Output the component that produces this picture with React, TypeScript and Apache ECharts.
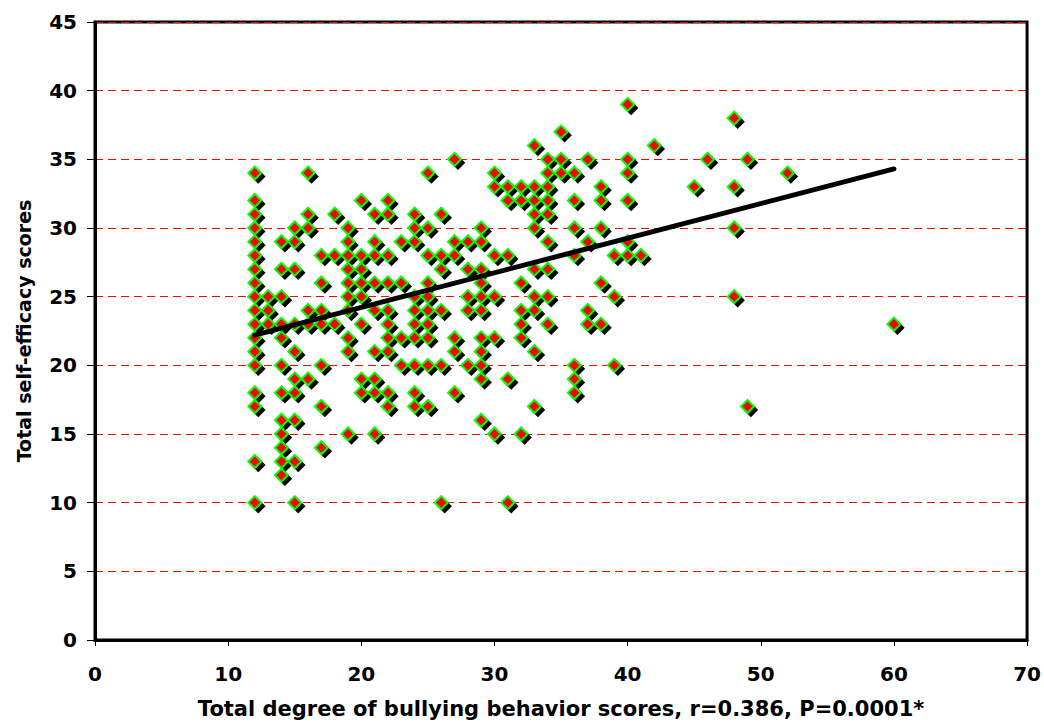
import { useEffect, useRef } from "react";
import * as echarts from "echarts";

// Bullying behaviour score (x) and the self-efficacy scores (y) observed at that x
const bullyingScores = [12, 13, 14, 15, 16, 17, 18, 19, 20, 21, 22, 23, 24, 25, 26, 27, 28, 29, 30, 31, 32, 33, 34, 35, 36, 37, 38, 39, 40, 41, 42, 45, 46, 48, 49, 52, 60];
const efficacyScores = [
  [34, 32, 31, 30, 29, 28, 27, 26, 25, 24, 23, 22, 21, 20, 18, 17, 13, 10],
  [25, 24, 23],
  [29, 27, 25, 23, 22, 20, 18, 16, 15, 14, 13, 12],
  [30, 29, 27, 23, 21, 19, 18, 16, 13, 10],
  [34, 31, 30, 24, 23, 19],
  [28, 26, 24, 23, 20, 17, 14],
  [31, 28, 23],
  [30, 29, 28, 27, 26, 25, 24, 22, 21, 15],
  [32, 28, 27, 26, 25, 23, 19, 18],
  [31, 29, 28, 26, 24, 21, 19, 18, 15],
  [32, 31, 28, 26, 24, 23, 22, 21, 18, 17],
  [29, 26, 22, 20],
  [31, 30, 29, 25, 24, 23, 22, 20, 18, 17],
  [34, 30, 28, 26, 25, 24, 23, 22, 20, 17],
  [31, 28, 27, 24, 20, 10],
  [35, 29, 28, 22, 21, 18],
  [29, 27, 25, 24, 20],
  [30, 29, 27, 26, 25, 24, 22, 21, 20, 19, 16],
  [34, 33, 28, 25, 22, 15],
  [33, 32, 28, 19, 10],
  [33, 32, 26, 24, 23, 22, 15],
  [36, 33, 32, 31, 30, 27, 25, 24, 21, 17],
  [35, 34, 33, 32, 31, 29, 27, 25, 23],
  [37, 35, 34],
  [34, 32, 30, 28, 20, 19, 18],
  [35, 29, 24, 23],
  [33, 32, 30, 26, 23],
  [28, 25, 20],
  [39, 35, 34, 32, 29, 28],
  [28],
  [36],
  [33],
  [35],
  [38, 33, 30, 25],
  [35, 17],
  [34],
  [23],
];

// Linear trend line end points
const trendX = [12, 60];
const trendY = [22.2, 34.3];

const xAxisTitle = "Total degree of bullying behavior scores, r=0.386, P=0.0001*";
const yAxisTitle = "Total self-efficacy scores";

const FONT = "'DejaVu Sans', Verdana, sans-serif";

export default function App() {
  const ref = useRef<HTMLDivElement>(null);

  useEffect(() => {
    if (!ref.current) return;
    const chart = echarts.init(ref.current, null, { renderer: "svg" });
    const points: number[][] = [];
    bullyingScores.forEach((x, i) => {
      efficacyScores[i].forEach((y) => points.push([x, y]));
    });
    const trend = trendX.map((x, i) => [x, trendY[i]]);

    const labelStyle = {
      color: "#000",
      fontSize: 20,
      fontWeight: "bold" as const,
      fontFamily: FONT,
    };

    chart.setOption({
      animation: false,
      backgroundColor: "#fff",
      grid: {
        left: 95,
        right: 15,
        top: 22,
        bottom: 87,
        show: true,
        borderColor: "#000",
        borderWidth: 3,
        backgroundColor: "transparent",
      },
      xAxis: {
        type: "value",
        min: 0,
        max: 70,
        interval: 10,
        name: xAxisTitle,
        nameLocation: "middle",
        nameGap: 58,
        nameTextStyle: { ...labelStyle, fontSize: 21 },
        axisLine: { show: true, lineStyle: { color: "#000", width: 3 } },
        axisTick: { show: true, inside: false, length: 6, lineStyle: { color: "#000", width: 1 } },
        axisLabel: { ...labelStyle, margin: 24 },
        splitLine: { show: false },
      },
      yAxis: {
        type: "value",
        min: 0,
        max: 45,
        interval: 5,
        name: yAxisTitle,
        nameLocation: "middle",
        nameGap: 62,
        nameTextStyle: { ...labelStyle, fontSize: 19 },
        axisLine: { show: true, lineStyle: { color: "#000", width: 3 } },
        axisTick: { show: true, inside: false, length: 8, lineStyle: { color: "#000", width: 1 } },
        axisLabel: { ...labelStyle, margin: 18 },
        splitLine: {
          show: true,
          lineStyle: { color: "#ff0000", width: 1, type: [8, 5] },
        },
      },
      series: [
        {
          type: "scatter",
          data: points,
          symbol: "diamond",
          symbolSize: 14.5,
          symbolOffset: [3.5, 3.5],
          itemStyle: { color: "#000", opacity: 1 },
          silent: true,
          z: 2,
        },
        {
          type: "scatter",
          data: points,
          symbol: "diamond",
          symbolSize: 13,
          itemStyle: { color: "#ff0000", borderColor: "#00ff00", borderWidth: 2, opacity: 1 },
          z: 3,
        },
        {
          type: "line",
          data: trend,
          symbol: "none",
          lineStyle: { color: "#000", width: 5, cap: "round" },
          z: 4,
        },
      ],
    });
    return () => chart.dispose();
  }, []);

  return (
    <div
      ref={ref}
      style={{ position: "absolute", left: 0, top: 0, width: 1044, height: 727, background: "#fff" }}
    />
  );
}
